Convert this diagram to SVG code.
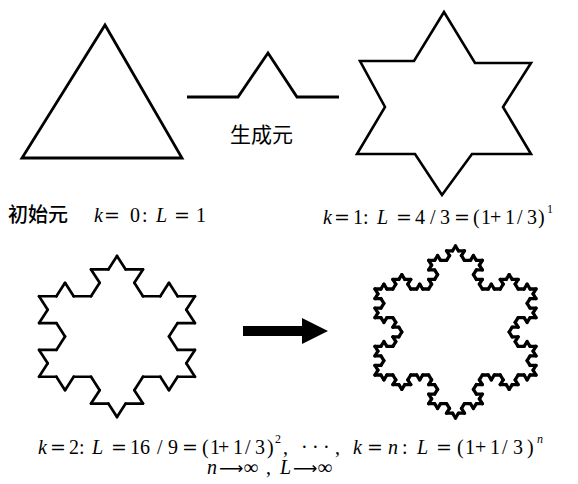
<svg xmlns="http://www.w3.org/2000/svg" width="578" height="484" viewBox="0 0 578 484">
<style>
.shape{fill:none;stroke:#000;stroke-width:2.8;stroke-linejoin:miter}
.seg{fill:none;stroke:#000;stroke-linecap:round;vector-effect:non-scaling-stroke}
text{font-family:"Liberation Serif","Times New Roman",serif;font-size:20px;fill:#000}
.cjk{font-family:"Noto Sans CJK SC","Noto Sans CJK JP",sans-serif;font-size:20px}
.it{font-style:italic}
.sup{font-size:12px}
.eq{font-family:"DejaVu Serif",serif;font-size:19px}
.ar{font-family:"DejaVu Sans",sans-serif;font-size:17px}
</style>
<defs>
<path id="k0" class="seg" d="M0,0H1"/>
<g id="k1">
<use href="#k0" transform="scale(.333333)"/>
<use href="#k0" transform="translate(.333333,0) rotate(-60) scale(.333333)"/>
<use href="#k0" transform="translate(.5,-.288675) rotate(60) scale(.333333)"/>
<use href="#k0" transform="translate(.666667,0) scale(.333333)"/>
</g>
<g id="k2">
<use href="#k1" transform="scale(.333333)"/>
<use href="#k1" transform="translate(.333333,0) rotate(-60) scale(.333333)"/>
<use href="#k1" transform="translate(.5,-.288675) rotate(60) scale(.333333)"/>
<use href="#k1" transform="translate(.666667,0) scale(.333333)"/>
</g>
<g id="k3">
<use href="#k2" transform="scale(.333333)"/>
<use href="#k2" transform="translate(.333333,0) rotate(-60) scale(.333333)"/>
<use href="#k2" transform="translate(.5,-.288675) rotate(60) scale(.333333)"/>
<use href="#k2" transform="translate(.666667,0) scale(.333333)"/>
</g>
</defs>

<g id="initiator">
<polygon class="shape" points="105,25 182,158 22,158"/>
<text y="222"><tspan class="cjk" x="8" style="font-weight:500">初始元</tspan><tspan class="it" x="94">k</tspan><tspan class="eq" x="104">=</tspan><tspan x="130 142">0:</tspan><tspan class="it" x="156">L</tspan><tspan class="eq" x="174">=</tspan><tspan x="196">1</tspan></text>
</g>

<g id="generator">
<polyline class="shape" points="187,97 238,97 268,53 297,97 339,97"/>
<text class="cjk" x="230" y="142" style="font-size:21px">生成元</text>
</g>

<g id="k1-star">
<polygon class="shape" style="stroke-width:2.6" points="444,12 414,61 360,61 385,107 357,154 415,154 442,195 472,154 531,154 503,107 531,63 475,63"/>
<text y="224"><tspan class="it" x="323">k</tspan><tspan class="eq" x="334">=</tspan><tspan x="353 363">1:</tspan><tspan class="it" x="377">L</tspan><tspan class="eq" x="396">=</tspan><tspan x="415 430 440">4/3</tspan><tspan class="eq" x="454">=</tspan><tspan x="473 481 490 505 517 527 538">(1+1/3)</tspan><tspan class="sup" x="547" y="213">1</tspan></text>
</g>

<g id="k2-snowflake" style="stroke-width:2.7">
<g transform="translate(117,336.5) scale(90,80.5)">
<use href="#k2" transform="translate(0,-1) rotate(60) scale(1.732051)"/>
<use href="#k2" transform="translate(.866025,.5) rotate(180) scale(1.732051)"/>
<use href="#k2" transform="translate(-.866025,.5) rotate(-60) scale(1.732051)"/>
</g>
</g>

<g id="limit-snowflake" style="stroke-width:3.3">
<g transform="translate(455.5,332) scale(93,86)">
<use href="#k3" transform="translate(0,-1) rotate(60) scale(1.732051)"/>
<use href="#k3" transform="translate(.866025,.5) rotate(180) scale(1.732051)"/>
<use href="#k3" transform="translate(-.866025,.5) rotate(-60) scale(1.732051)"/>
</g>
</g>

<g id="connectors">
<polygon fill="#000" points="243,326 302,326 302,318 328,331 302,344 302,336 243,336"/>
</g>

<g id="captions">
<text y="454"><tspan class="it" x="38">k</tspan><tspan class="eq" x="50">=</tspan><tspan x="69 79">2:</tspan><tspan class="it" x="92">L</tspan><tspan class="eq" x="111">=</tspan><tspan x="130 140 157 168">16/9</tspan><tspan class="eq" x="182">=</tspan><tspan x="202 210 218 233 245 255 267">(1+1/3)</tspan><tspan class="sup" x="275" y="443">2</tspan><tspan x="283 301 312 323 335" y="454">,···,</tspan><tspan class="it" x="353">k</tspan><tspan class="eq" x="367">=</tspan><tspan class="it" x="388">n</tspan><tspan x="402">:</tspan><tspan class="it" x="417">L</tspan><tspan class="eq" x="436">=</tspan><tspan x="457 465 475 490 502 513 527">(1+1/3)</tspan><tspan class="sup it" x="537" y="443">n</tspan></text>
<text y="474"><tspan class="it" x="207">n</tspan><tspan class="ar" x="219">⟶</tspan><tspan x="244" style="font-weight:bold">∞</tspan><tspan x="266">,</tspan><tspan class="it" x="280">L</tspan><tspan class="ar" x="293">⟶</tspan><tspan x="318" style="font-weight:bold">∞</tspan></text>
</g>
</svg>
